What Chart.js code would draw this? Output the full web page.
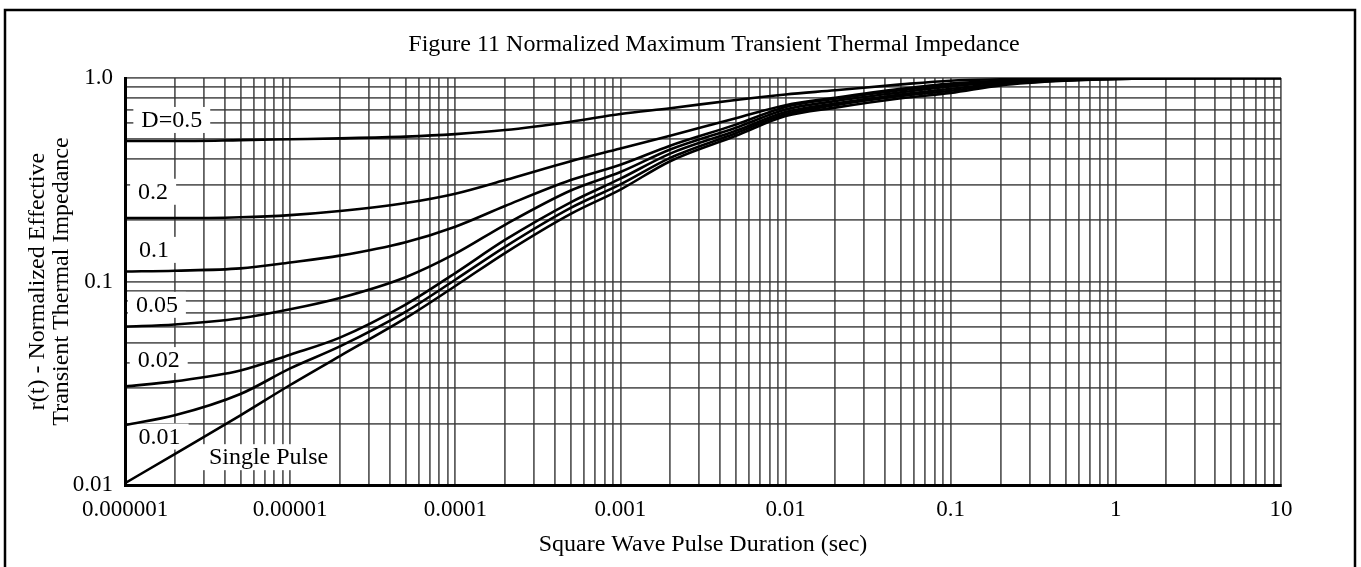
<!DOCTYPE html>
<html>
<head>
<meta charset="utf-8">
<title>Figure 11 Normalized Maximum Transient Thermal Impedance</title>
<script src="https://cdn.jsdelivr.net/npm/chart.js@4/dist/chart.umd.min.js"></script>
<style>
  html, body { margin: 0; padding: 0; background: #fff; }
</style>
</head>
<body>
<canvas id="chart" width="1361" height="567"></canvas>
<script>
const pulseTimes = [1e-6, 2e-6, 5e-6, 1e-5, 2e-5, 5e-5, 1e-4, 2e-4, 5e-4, 1e-3, 2e-3, 5e-3,
                    0.01, 0.02, 0.05, 0.1, 0.2, 0.5, 1, 2, 5, 10];

// r(t) for each duty cycle
const duty050 = [0.49, 0.49, 0.495, 0.50, 0.505, 0.515, 0.53, 0.555, 0.61, 0.665, 0.71, 0.78,
                 0.83, 0.87, 0.93, 0.97, 0.985, 0.995, 1.0, 1.0, 1.0, 1.0];
const duty020 = [0.205, 0.205, 0.207, 0.212, 0.222, 0.243, 0.27, 0.315, 0.39, 0.45, 0.52, 0.635,
                 0.735, 0.80, 0.885, 0.94, 0.968, 0.988, 0.996, 1.0, 1.0, 1.0];
const duty010 = [0.112, 0.113, 0.116, 0.124, 0.134, 0.156, 0.186, 0.235, 0.315, 0.375, 0.465, 0.59,
                 0.72, 0.79, 0.87, 0.93, 0.96, 0.985, 0.995, 1.0, 1.0, 1.0];
const duty005 = [0.060, 0.0615, 0.066, 0.073, 0.083, 0.105, 0.137, 0.19, 0.28, 0.345, 0.445, 0.57,
                 0.70, 0.77, 0.85, 0.91, 0.95, 0.98, 0.993, 1.0, 1.0, 1.0];
const duty002 = [0.0305, 0.0323, 0.0365, 0.0437, 0.053, 0.077, 0.11, 0.16, 0.245, 0.32, 0.425, 0.55,
                 0.68, 0.75, 0.83, 0.885, 0.94, 0.977, 0.99, 0.998, 1.0, 1.0];
const duty001 = [0.0197, 0.022, 0.028, 0.0374, 0.048, 0.071, 0.102, 0.148, 0.23, 0.30, 0.405, 0.535,
                 0.665, 0.735, 0.815, 0.865, 0.93, 0.975, 0.99, 0.998, 1.0, 1.0];
const singlePulse = [0.0102, 0.0142, 0.022, 0.031, 0.043, 0.066, 0.095, 0.138, 0.215, 0.283, 0.39, 0.52,
                     0.65, 0.715, 0.795, 0.845, 0.92, 0.97, 0.988, 0.997, 1.0, 1.0];

const curveNames = ['D=0.5', '0.2', '0.1', '0.05', '0.02', '0.01', 'Single Pulse'];
const curveValues = [duty050, duty020, duty010, duty005, duty002, duty001, singlePulse];

// where each curve name sits on the chart, in data units (t, r)
const tagTimes = [1.92e-6, 1.48e-6, 1.5e-6, 1.56e-6, 1.6e-6, 1.62e-6, 7.4e-6];
const tagValues = [0.622, 0.276, 0.143, 0.0768, 0.0411, 0.0173, 0.0137];

const xTickValues = [1e-6, 1e-5, 1e-4, 1e-3, 1e-2, 0.1, 1, 10];
const xTickLabels = ['0.000001', '0.00001', '0.0001', '0.001', '0.01', '0.1', '1', '10'];
const yTickValues = [0.01, 0.1, 1];
const yTickLabels = ['0.01', '0.1', '1.0'];
const gridSteps = [1, 2, 3, 4, 5, 6, 7, 8, 9];

const chartTitle = 'Figure 11 Normalized Maximum Transient Thermal Impedance';
const xTitle = 'Square Wave Pulse Duration (sec)';
const yTitle = ['r(t) - Normalized Effective', 'Transient Thermal Impedance'];

const serif = '"Liberation Serif", "Times New Roman", serif';
const gridColor = 'rgba(55, 55, 55, 0.8)';

function logGrid(min, max) {
    let ticks = [];
    for (let e = Math.round(Math.log10(min)); e <= Math.round(Math.log10(max)); e++) {
        gridSteps.forEach(m => {
            const v = parseFloat((m * Math.pow(10, e)).toPrecision(6));
            if (v >= min && v <= max) ticks.push({ value: v });
        });
    }
    return ticks;
}

function labelFor(values, labels, value) {
    const i = values.findIndex(v => Math.abs(v - value) / v < 1e-6);
    return i >= 0 ? labels[i] : '';
}

const datasets = curveNames.map((name, i) => {
    return {
        label: name,
        data: pulseTimes.map((t, j) => ({ x: t, y: curveValues[i][j] })),
        borderColor: '#000',
        borderWidth: 2.6,
        pointRadius: 0,
        cubicInterpolationMode: 'monotone',
        fill: false
    };
});

const curveTags = {
    id: 'curveTags',
    beforeDatasetsDraw(chart) {
        const ctx = chart.ctx;
        const x = chart.scales.x;
        const y = chart.scales.y;
        ctx.save();
        ctx.font = '24px ' + serif;
        ctx.textAlign = 'center';
        ctx.textBaseline = 'middle';
        for (let i = 0; i < curveNames.length; i++) {
            const px = x.getPixelForValue(tagTimes[i]);
            const py = y.getPixelForValue(tagValues[i]);
            const w = ctx.measureText(curveNames[i]).width + 16;
            ctx.fillStyle = '#fff';
            ctx.fillRect(px - w / 2, py - 13, w, 26);
            ctx.fillStyle = '#000';
            ctx.fillText(curveNames[i], px, py + 1);
        }
        ctx.restore();
    }
};

const frameAndTitle = {
    id: 'frameAndTitle',
    afterDraw(chart) {
        const ctx = chart.ctx;
        ctx.save();
        ctx.strokeStyle = '#000';
        ctx.lineWidth = 2.5;
        ctx.strokeRect(5, 10, 1350, 600);
        ctx.fillStyle = '#000';
        ctx.font = '24px ' + serif;
        ctx.textAlign = 'center';
        ctx.textBaseline = 'middle';
        ctx.fillText(chartTitle, 714, 45);
        ctx.restore();
    }
};

const chart = new Chart('chart', {
    type: 'line',
    data: { datasets: datasets },
    options: {
        responsive: false,
        animation: false,
        layout: { padding: { left: 0, right: 80, top: 78, bottom: 0 } },
        plugins: {
            legend: { display: false },
            tooltip: { enabled: false }
        },
        scales: {
            x: {
                type: 'logarithmic',
                min: 1e-6,
                max: 10,
                afterBuildTicks: s => { s.ticks = logGrid(1e-6, 10); },
                afterFit: s => { s.height = 82; },
                grid: { color: gridColor, lineWidth: 1.8, drawTicks: false },
                border: { display: true, color: '#000', width: 3 },
                ticks: {
                    autoSkip: false,
                    maxRotation: 0,
                    padding: 11,
                    color: '#000',
                    font: { family: serif, size: 23 },
                    callback: v => labelFor(xTickValues, xTickLabels, v)
                },
                title: {
                    display: true,
                    text: xTitle,
                    color: '#000',
                    font: { family: serif, size: 24, lineHeight: 1.05 },
                    padding: { top: 0, bottom: 10 }
                }
            },
            y: {
                type: 'logarithmic',
                min: 0.01,
                max: 1,
                afterBuildTicks: s => { s.ticks = logGrid(0.01, 1); },
                afterFit: s => { s.width = 125; },
                grid: { color: gridColor, lineWidth: 1.8, drawTicks: false },
                border: { display: true, color: '#000', width: 3 },
                ticks: {
                    autoSkip: false,
                    padding: 12,
                    color: '#000',
                    font: { family: serif, size: 23 },
                    callback: v => labelFor(yTickValues, yTickLabels, v)
                },
                title: {
                    display: true,
                    text: yTitle,
                    color: '#000',
                    font: { family: serif, size: 24, lineHeight: 1.0 },
                    padding: { top: 26, bottom: 0 }
                }
            }
        }
    },
    plugins: [curveTags, frameAndTitle]
});
</script>
</body>
</html>
